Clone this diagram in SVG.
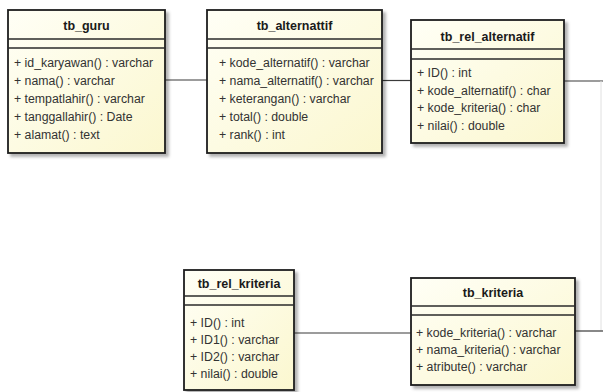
<svg xmlns="http://www.w3.org/2000/svg" width="603" height="392" viewBox="0 0 603 392">
<defs>
<linearGradient id="fill" x1="0" y1="0" x2="1" y2="1">
<stop offset="0" stop-color="#fffff6"/>
<stop offset="1" stop-color="#fbf7cf"/>
</linearGradient>
<filter id="sh" x="-10%" y="-10%" width="125%" height="125%">
<feDropShadow dx="3" dy="3" stdDeviation="1.5" flood-color="#000" flood-opacity="0.3"/>
</filter>
<style>
.box{fill:url(#fill);stroke:#1c1c1c;stroke-width:1.8;filter:url(#sh)}
.sep{stroke:#2a2a2a;stroke-width:1.3}
.title{font-family:"Liberation Sans",Arial,sans-serif;font-size:12.5px;font-weight:bold;fill:#1a1a1a;text-anchor:middle}
.attr{font-family:"Liberation Sans",Arial,sans-serif;font-size:12.3px;fill:#333}
.conn{stroke:#3a3a3a;stroke-width:1.2;fill:none}
.faint{stroke:#e0e0e0;stroke-width:1;fill:none}
</style>
</defs>
<rect width="603" height="392" fill="#ffffff"/>
<g id="connectors">
<line class="conn" x1="165" y1="80" x2="207" y2="80"/>
<line class="conn" x1="382" y1="80.5" x2="411" y2="80.5"/>
<line class="conn" x1="564" y1="81" x2="603" y2="81"/>
<line class="faint" x1="601" y1="81" x2="601" y2="331"/>
<line class="conn" x1="575" y1="331" x2="603" y2="331"/>
<line class="conn" x1="294" y1="333" x2="411" y2="333"/>
</g>
<g id="tb_guru">
<rect class="box" x="8" y="10" width="157" height="143"/>
<line class="sep" x1="8" y1="39" x2="165" y2="39"/>
<line class="sep" x1="8" y1="48" x2="165" y2="48"/>
<text class="title" x="86.5" y="30">tb_guru</text>
<text class="attr" x="14" y="67">+ id_karyawan() : varchar</text>
<text class="attr" x="14" y="85">+ nama() : varchar</text>
<text class="attr" x="14" y="103">+ tempatlahir() : varchar</text>
<text class="attr" x="14" y="121">+ tanggallahir() : Date</text>
<text class="attr" x="14" y="139">+ alamat() : text</text>
</g>
<g id="tb_alternattif">
<rect class="box" x="207" y="10" width="175" height="143"/>
<line class="sep" x1="207" y1="39" x2="382" y2="39"/>
<line class="sep" x1="207" y1="48" x2="382" y2="48"/>
<text class="title" x="294.5" y="30">tb_alternattif</text>
<text class="attr" x="219" y="67">+ kode_alternatif() : varchar</text>
<text class="attr" x="219" y="85">+ nama_alternatif() : varchar</text>
<text class="attr" x="219" y="103">+ keterangan() : varchar</text>
<text class="attr" x="219" y="121">+ total() : double</text>
<text class="attr" x="219" y="139">+ rank() : int</text>
</g>
<g id="tb_rel_alternatif">
<rect class="box" x="411" y="20" width="153" height="123"/>
<line class="sep" x1="411" y1="49" x2="564" y2="49"/>
<line class="sep" x1="411" y1="59" x2="564" y2="59"/>
<text class="title" x="487.5" y="41">tb_rel_alternatif</text>
<text class="attr" x="417" y="77">+ ID() : int</text>
<text class="attr" x="417" y="94.5">+ kode_alternatif() : char</text>
<text class="attr" x="417" y="112">+ kode_kriteria() : char</text>
<text class="attr" x="417" y="129.5">+ nilai() : double</text>
</g>
<g id="tb_rel_kriteria">
<rect class="box" x="184" y="270" width="110" height="120"/>
<line class="sep" x1="184" y1="296" x2="294" y2="296"/>
<line class="sep" x1="184" y1="305" x2="294" y2="305"/>
<text class="title" x="239" y="288">tb_rel_kriteria</text>
<text class="attr" x="190" y="327">+ ID() : int</text>
<text class="attr" x="190" y="344">+ ID1() : varchar</text>
<text class="attr" x="190" y="361">+ ID2() : varchar</text>
<text class="attr" x="190" y="378">+ nilai() : double</text>
</g>
<g id="tb_kriteria">
<rect class="box" x="411" y="278" width="164" height="107"/>
<line class="sep" x1="411" y1="306" x2="575" y2="306"/>
<line class="sep" x1="411" y1="315" x2="575" y2="315"/>
<text class="title" x="493" y="297">tb_kriteria</text>
<text class="attr" x="416" y="337">+ kode_kriteria() : varchar</text>
<text class="attr" x="416" y="354">+ nama_kriteria() : varchar</text>
<text class="attr" x="416" y="371">+ atribute() : varchar</text>
</g>
</svg>
